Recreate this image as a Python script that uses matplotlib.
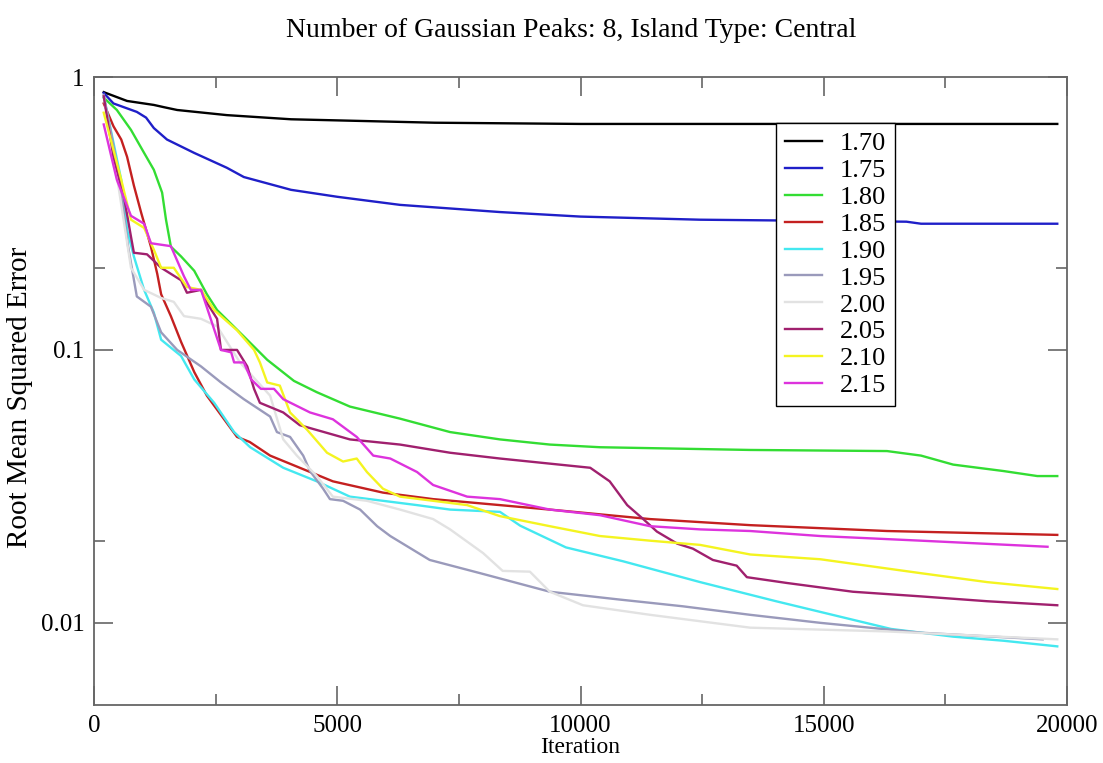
import matplotlib
matplotlib.use("Agg")
import matplotlib.pyplot as plt
from matplotlib.ticker import FixedLocator, NullFormatter

title = "Number of Gaussian Peaks: 8, Island Type: Central"
xlabel = "Iteration"
ylabel = "Root Mean Squared Error"

labels = ["1.70", "1.75", "1.80", "1.85", "1.90", "1.95", "2.00", "2.05", "2.10", "2.15"]
colors = ["#000000", "#1f1fc8", "#33dd33", "#c42020", "#44e8f0", "#9a9abb",
          "#e2e2e2", "#a0206e", "#f4f420", "#dd33dd"]

it_170 = [200, 680, 1230, 1440, 1710, 2730, 4050, 7000, 10000, 19800]
v_170 = [0.88, 0.817, 0.79, 0.775, 0.757, 0.725, 0.70, 0.68, 0.673, 0.673]

it_175 = [200, 400, 880, 1070, 1230, 1500, 2060, 2730, 3080, 4050, 5000, 6290, 8345,
          10000, 12460, 16700, 17000, 19800]
v_175 = [0.874, 0.80, 0.745, 0.71, 0.65, 0.59, 0.527, 0.465, 0.43, 0.386, 0.364, 0.34,
         0.32, 0.308, 0.30, 0.295, 0.29, 0.29]

it_180 = [200, 470, 760, 1030, 1230, 1400, 1480, 1580, 1790, 2060, 2320, 2530, 3080,
          3560, 4110, 4580, 5260, 6290, 7320, 8345, 9370, 10400, 13490, 16300, 17000,
          17660, 18690, 19390, 19800]
v_180 = [0.84, 0.757, 0.64, 0.527, 0.457, 0.377, 0.30, 0.239, 0.22, 0.195, 0.16, 0.14,
         0.112, 0.092, 0.077, 0.070, 0.062, 0.056, 0.050, 0.047, 0.045, 0.044, 0.043,
         0.0426, 0.041, 0.038, 0.036, 0.0345, 0.0345]

it_185 = [200, 400, 560, 680, 820, 970, 1170, 1300, 1380, 1580, 1790, 2060, 2320, 2730,
          2940, 3200, 3620, 4230, 4910, 5940, 6970, 8345, 9370, 11430, 13490, 16300, 19800]
v_185 = [0.80, 0.66, 0.59, 0.51, 0.40, 0.318, 0.239, 0.19, 0.16, 0.133, 0.107, 0.083,
         0.068, 0.054, 0.048, 0.046, 0.041, 0.037, 0.033, 0.030, 0.0284, 0.027, 0.026,
         0.024, 0.0228, 0.0217, 0.021]

it_190 = [200, 560, 680, 820, 1030, 1230, 1380, 1790, 2060, 2470, 2880, 3210, 3890, 4580,
          5260, 5940, 6640, 7320, 8345, 8760, 9700, 10880, 12460, 14020, 16380, 17660,
          18690, 19800]
v_190 = [0.85, 0.42, 0.276, 0.22, 0.166, 0.137, 0.109, 0.095, 0.078, 0.064, 0.05, 0.044,
         0.037, 0.033, 0.029, 0.028, 0.027, 0.026, 0.0255, 0.0227, 0.0189, 0.0168, 0.0141,
         0.0120, 0.0095, 0.0089, 0.0086, 0.0082]

it_195 = [200, 500, 700, 880, 1170, 1380, 1710, 2200, 2610, 3080, 3620, 3760, 4030, 4300,
          4440, 4710, 4850, 5120, 5470, 5820, 6090, 6900, 7940, 9370, 10750, 12100, 13490,
          14930, 17000, 19500]
v_195 = [0.86, 0.45, 0.24, 0.157, 0.144, 0.116, 0.10, 0.087, 0.076, 0.066, 0.057, 0.05,
         0.048, 0.041, 0.036, 0.031, 0.0284, 0.028, 0.026, 0.0226, 0.0208, 0.017, 0.0152,
         0.013, 0.0122, 0.0115, 0.0107, 0.010, 0.0092, 0.0087]

it_200 = [200, 500, 760, 1030, 1380, 1640, 1850, 2200, 2530, 3000, 3620, 3890, 4170, 4580,
          4910, 5610, 6290, 6970, 7320, 8000, 8400, 8960, 9370, 10050, 11430, 13490, 16300,
          19800]
v_200 = [0.85, 0.4, 0.2, 0.166, 0.155, 0.15, 0.133, 0.13, 0.122, 0.09, 0.068, 0.047, 0.041,
         0.0345, 0.029, 0.028, 0.026, 0.024, 0.022, 0.018, 0.0155, 0.0154, 0.013, 0.0116,
         0.0107, 0.0096, 0.0093, 0.0087]

it_205 = [200, 400, 620, 760, 820, 1090, 1380, 1790, 1910, 2200, 2320, 2530, 2610, 2940,
          3150, 3290, 3410, 3890, 4230, 5260, 6290, 7320, 8345, 10200, 10600, 10960, 11290,
          11570, 11990, 12310, 12720, 13210, 13420, 14240, 15600, 17000, 18360, 19800]
v_205 = [0.85, 0.51, 0.36, 0.26, 0.227, 0.224, 0.2, 0.18, 0.162, 0.166, 0.149, 0.13, 0.10,
         0.1, 0.087, 0.072, 0.064, 0.059, 0.053, 0.047, 0.045, 0.042, 0.040, 0.037, 0.033,
         0.027, 0.024, 0.0216, 0.0195, 0.0187, 0.017, 0.0162, 0.0147, 0.014, 0.013, 0.0125,
         0.012, 0.0116]

it_210 = [200, 560, 760, 1030, 1230, 1380, 1640, 1910, 2200, 2470, 2940, 3290, 3410, 3560,
          3820, 4030, 4380, 4790, 5120, 5400, 5610, 5940, 6290, 6970, 7670, 8345, 9370,
          10400, 11430, 12460, 13490, 14930, 17000, 18360, 19800]
v_210 = [0.74, 0.42, 0.30, 0.28, 0.233, 0.2, 0.2, 0.17, 0.166, 0.14, 0.118, 0.1, 0.09,
         0.076, 0.074, 0.059, 0.051, 0.042, 0.039, 0.040, 0.0357, 0.031, 0.029, 0.028,
         0.027, 0.0246, 0.0226, 0.0208, 0.020, 0.0193, 0.0178, 0.0171, 0.0152, 0.0141, 0.0133]

it_215 = [200, 470, 760, 1030, 1170, 1580, 1850, 1990, 2200, 2380, 2610, 2820, 2880, 3080,
          3230, 3430, 3700, 3890, 4440, 4910, 5400, 5740, 6090, 6640, 6970, 7670, 8345, 9370,
          10400, 11430, 12460, 13490, 14930, 17000, 19600]
v_215 = [0.67, 0.42, 0.31, 0.29, 0.246, 0.24, 0.186, 0.166, 0.166, 0.133, 0.1, 0.098, 0.09,
         0.09, 0.078, 0.072, 0.072, 0.066, 0.059, 0.0557, 0.048, 0.041, 0.040, 0.0357, 0.032,
         0.029, 0.0284, 0.026, 0.0248, 0.0226, 0.022, 0.0217, 0.0208, 0.020, 0.019]

series_it = [it_170, it_175, it_180, it_185, it_190, it_195, it_200, it_205, it_210, it_215]
series_v = [v_170, v_175, v_180, v_185, v_190, v_195, v_200, v_205, v_210, v_215]

plt.rcParams['font.family'] = ['Liberation Serif', 'DejaVu Serif']

fig = plt.figure(figsize=(11.03, 7.63), dpi=100)
ax = fig.add_axes([94 / 1103, 1 - 705 / 763, (1067 - 94) / 1103, (705 - 77) / 763])

for xs, ys, c, lab in zip(series_it, series_v, colors, labels):
    ax.plot(xs, ys, color=c, lw=1.7, label=lab)

ax.set_yscale('log')
ax.set_xlim(0, 20000)
ax.set_ylim(0.005, 1)

ax.xaxis.set_major_locator(FixedLocator([0, 5000, 10000, 15000, 20000]))
ax.xaxis.set_minor_locator(FixedLocator([2500, 7500, 12500, 17500]))
ax.yaxis.set_major_locator(FixedLocator([0.01, 0.1, 1]))
ax.yaxis.set_minor_locator(FixedLocator([0.02, 0.2]))
ax.yaxis.set_minor_formatter(NullFormatter())
ax.set_yticklabels(["0.01", "0.1", "1"])
ax.set_xticklabels(["0", "5000", "10000", "15000", "20000"])

for s in ax.spines.values():
    s.set_color("#666666")
    s.set_linewidth(1.3)
ax.tick_params(which='both', direction='in', top=True, right=True, color="#666666",
               labelsize=18, width=1.2)
ax.tick_params(which='major', length=14, pad=7)
ax.tick_params(which='minor', length=8)

ax.set_title(title, fontsize=20, pad=29, x=0.49)
ax.set_xlabel(xlabel, fontsize=17, labelpad=0)
ax.set_ylabel(ylabel, fontsize=21)
ax.yaxis.set_label_coords(-0.063, 0.49)

leg = ax.legend(loc='upper left', bbox_to_anchor=(776 / 1103, 1 - 123 / 763),
                bbox_transform=fig.transFigure, fontsize=19, frameon=True,
                fancybox=False, borderaxespad=0, handlelength=1.4, handletextpad=0.68,
                labelspacing=0.13, borderpad=0.33)
leg.get_frame().set_edgecolor("black")
leg.get_frame().set_linewidth(1.0)
leg.get_frame().set_alpha(1)

fig.savefig("out.png", dpi=100)
